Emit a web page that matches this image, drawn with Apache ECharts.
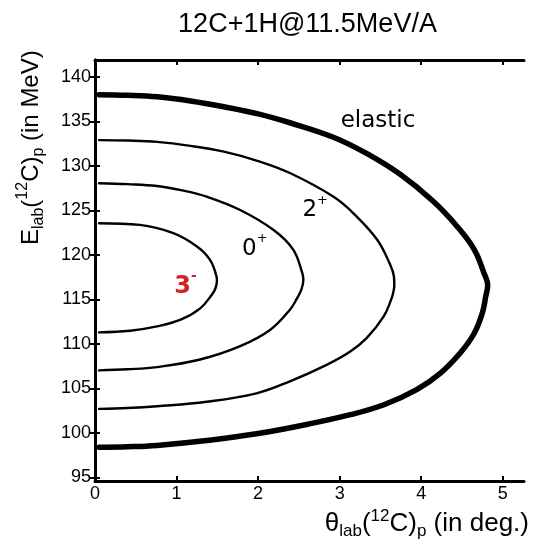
<!DOCTYPE html>
<html>
<head>
<meta charset="utf-8">
<script src="https://cdn.jsdelivr.net/npm/echarts@6/dist/echarts.min.js"></script>
<style>
html,body{margin:0;padding:0;background:#fff;}
#chart{width:535px;height:550px;}
</style>
</head>
<body>
<div id="chart"></div>
<script>
// ---- data ----
var titleText = '12C+1H@11.5MeV/A';
var xTicks = [0, 1, 2, 3, 4, 5];
var yTicks = [95, 100, 105, 110, 115, 120, 125, 130, 135, 140];
var xRange = [0, 5.26];
var yRange = [94.6, 141.9];

// kinematic curves: [theta_lab (deg), E_lab (MeV)]
var elastic = [[0.05,138.0],[0.40,137.93],[0.76,137.76],[1.17,137.3],[1.58,136.65],[2.00,135.85],[2.39,134.85],[2.93,133.2],[3.33,131.4],[3.75,129.0],[4.15,126.0],[4.44,123.2],[4.65,120.6],[4.77,117.95],[4.815,116.6],[4.79,115.3],[4.75,113.5],[4.65,111.2],[4.48,109.0],[4.24,106.75],[3.95,104.9],[3.55,103.2],[3.13,102.05],[2.62,101.0],[1.98,99.9],[1.37,99.15],[0.76,98.6],[0.40,98.45],[0.05,98.4]];
var state2plus = [[0.05,132.9],[0.40,132.85],[0.76,132.7],[1.17,132.25],[1.58,131.6],[2.00,130.55],[2.39,129.2],[2.93,126.5],[3.21,124.3],[3.46,121.7],[3.61,119.1],[3.665,117.6],[3.67,116.6],[3.655,115.7],[3.63,114.95],[3.54,113.1],[3.33,110.65],[3.13,109.15],[2.84,107.65],[2.39,105.8],[1.98,104.45],[1.37,103.5],[0.76,103.0],[0.40,102.8],[0.05,102.7]];
var state0plus = [[0.05,128.05],[0.40,127.95],[0.76,127.74],[1.07,127.25],[1.37,126.55],[1.78,125.05],[2.19,122.8],[2.43,120.6],[2.54,118.0],[2.555,117.2],[2.53,116.1],[2.47,115.0],[2.39,113.85],[2.15,111.6],[1.78,109.75],[1.29,108.25],[0.76,107.4],[0.40,107.15],[0.05,107.03]];
var state3minus = [[0.05,123.56],[0.55,123.37],[0.96,122.44],[1.25,120.94],[1.41,119.44],[1.49,117.57],[1.495,117.1],[1.475,116.2],[1.43,115.5],[1.29,114.0],[1.05,112.72],[0.76,111.97],[0.43,111.48],[0.05,111.3]];

// curve labels: [theta, E, text]
var curveLabels = [
  [3.47, 135.4, 'elastic'],
  [2.70, 125.4, '2+'],
  [1.96, 121.1, '0+'],
  [1.11, 116.8, '3-']
];

// ---- chart ----
var chart = echarts.init(document.getElementById('chart'), null, {renderer: 'canvas'});
var tickFont = {fontFamily: 'Liberation Sans', fontSize: 18, color: '#000'};
var axisLineStyle = {show: true, lineStyle: {color: '#000', width: 3}};
var tickStyle = function (vals) {
  return {show: true, inside: true, length: 5, lineStyle: {color: '#000', width: 2}, customValues: vals};
};

function lineSeries(name, data, w) {
  return {
    name: name, type: 'line', data: data, xAxisIndex: 0, yAxisIndex: 0,
    showSymbol: false, symbol: 'none', smooth: 0.4, silent: true,
    lineStyle: {color: '#000', width: w, cap: 'round', join: 'round', opacity: 1},
    z: 3
  };
}

var labelRich = {
  n: {fontFamily: 'DejaVu Sans', fontSize: 23, color: '#000', lineHeight: 30, verticalAlign: 'bottom'},
  s: {fontFamily: 'DejaVu Sans', fontSize: 13, color: '#000', lineHeight: 30, verticalAlign: 'top', padding: [2, 0, 0, 0]},
  r: {fontFamily: 'DejaVu Sans', fontSize: 24, fontWeight: 'bold', color: '#d62222', lineHeight: 30, verticalAlign: 'bottom'},
  rs: {fontFamily: 'DejaVu Sans', fontSize: 14, fontWeight: 'bold', color: '#d62222', lineHeight: 30, verticalAlign: 'top', padding: [1, 0, 0, 0]}
};
function fmtLabel(t) {
  if (t === 'elastic') return '{n|elastic}';
  if (t === '3-') return '{r|3}{rs|-}';
  return '{n|' + t.charAt(0) + '}{s|' + t.charAt(1) + '}';
}

function nameRich(fs, ss) {
  return {
    m: {fontFamily: 'Liberation Sans', fontSize: fs, fill: '#000', lineHeight: 32, verticalAlign: 'middle'},
    sub: {fontFamily: 'Liberation Sans', fontSize: ss, fill: '#000', lineHeight: ss, verticalAlign: 'bottom'},
    sup: {fontFamily: 'Liberation Sans', fontSize: ss, fill: '#000', lineHeight: ss, verticalAlign: 'top'}
  };
}

var option = {
  backgroundColor: '#fff',
  animation: false,
  title: {
    text: titleText, left: 302.5, top: 6, textAlign: 'center',
    textStyle: {fontFamily: 'Liberation Sans', fontSize: 27, fontWeight: 'normal', color: '#000'}
  },
  grid: {left: 95, right: 11, top: 60, bottom: 69, containLabel: false},
  xAxis: [
    {type: 'value', min: xRange[0], max: xRange[1], position: 'bottom',
     axisLine: axisLineStyle, axisTick: tickStyle(xTicks), splitLine: {show: false},
     axisLabel: Object.assign({show: true, margin: 4, customValues: xTicks, showMinLabel: true, showMaxLabel: true}, tickFont)},
    {type: 'value', min: xRange[0], max: xRange[1], position: 'top',
     axisLine: axisLineStyle, axisTick: tickStyle(xTicks), splitLine: {show: false},
     axisLabel: {show: false}}
  ],
  yAxis: [
    {type: 'value', min: yRange[0], max: yRange[1], position: 'left',
     axisLine: axisLineStyle, axisTick: tickStyle(yTicks), splitLine: {show: false},
     axisLabel: Object.assign({show: true, margin: 4, customValues: yTicks}, tickFont)},
    {type: 'value', min: yRange[0], max: yRange[1], position: 'right',
     axisLine: axisLineStyle, axisTick: tickStyle(yTicks), splitLine: {show: false},
     axisLabel: {show: false}}
  ],
  series: [
    lineSeries('elastic', elastic, 5.5),
    lineSeries('2+', state2plus, 2.4),
    lineSeries('0+', state0plus, 2.4),
    lineSeries('3-', state3minus, 2.4),
    {
      type: 'scatter', symbolSize: 0, silent: true, z: 5,
      itemStyle: {opacity: 1},
      data: curveLabels.map(function (d) { return {value: [d[0], d[1]], name: d[2]}; }),
      label: {
        show: true, position: 'inside', opacity: 1, color: '#000',
        formatter: function (p) { return fmtLabel(p.name); },
        rich: labelRich
      }
    }
  ],
  graphic: [
    {
      type: 'text', x: 529, y: 508, silent: true,
      style: {
        text: '{m|\u03b8}{sub|lab}{m|(}{sup|12}{m|C)}{sub|p}{m| (in deg.)}',
        align: 'right', verticalAlign: 'top', rich: nameRich(26, 17),
        fontFamily: 'Liberation Sans', fontSize: 26, fill: '#000'
      }
    },
    {
      type: 'text', x: 15, y: 245, rotation: Math.PI / 2, silent: true,
      style: {
        text: '{m|E}{sub|lab}{m|(}{sup|12}{m|C)}{sub|p}{m| (in MeV)}',
        align: 'left', verticalAlign: 'top', rich: nameRich(24, 16),
        fontFamily: 'Liberation Sans', fontSize: 24, fill: '#000'
      }
    }
  ]
};
chart.setOption(option);
</script>
</body>
</html>
